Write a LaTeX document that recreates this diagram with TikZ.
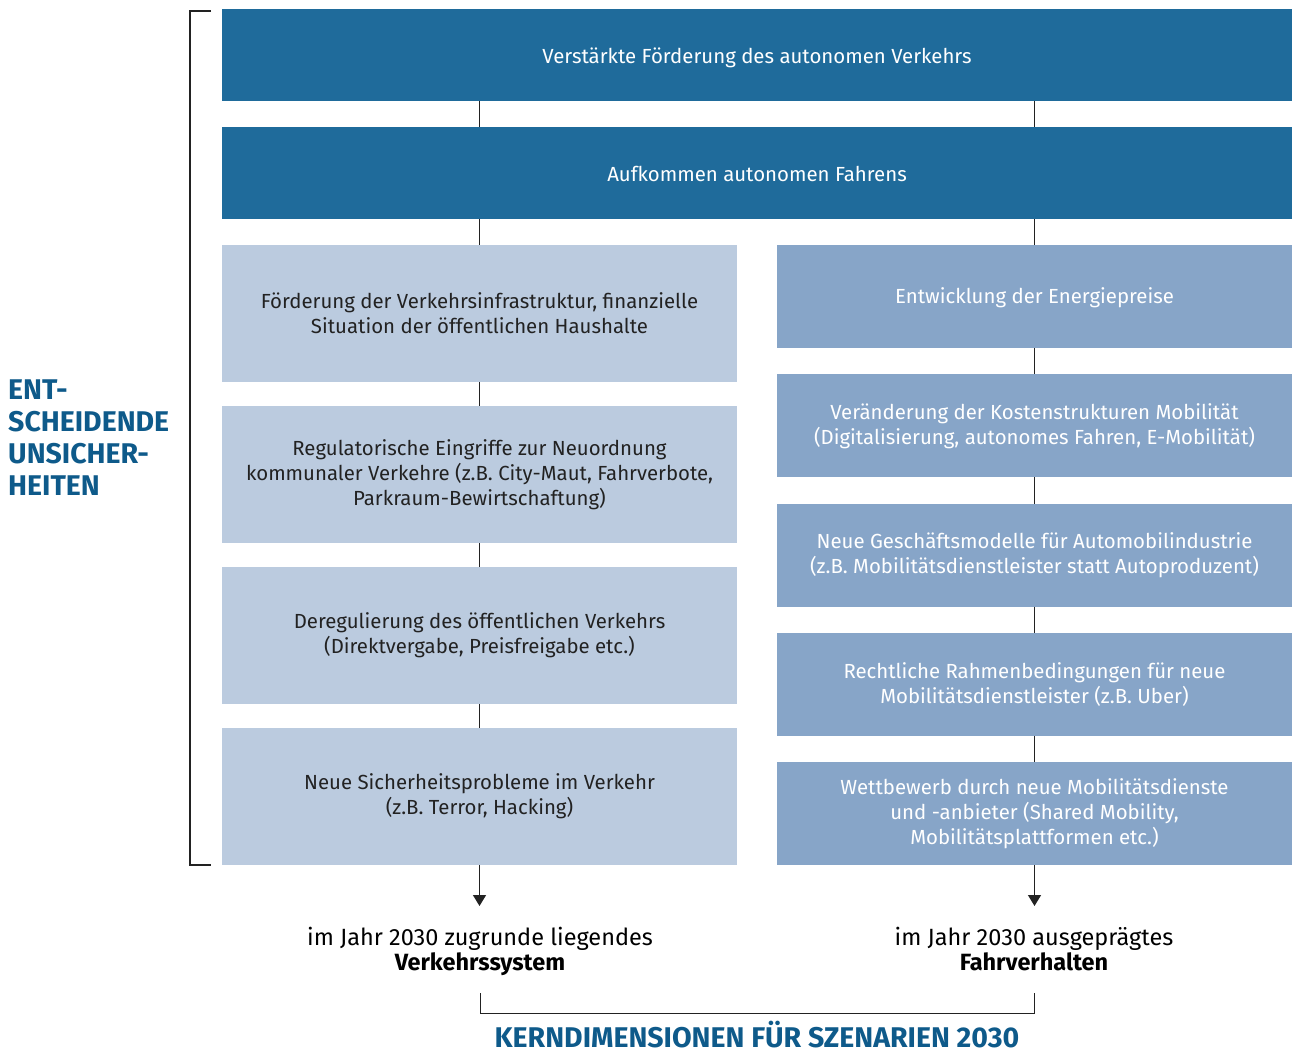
\documentclass[tikz,border=0pt]{standalone}
\usepackage{fontspec}
\setmainfont{Fira Sans}
\usetikzlibrary{positioning,arrows.meta}
\definecolor{darkbox}{HTML}{1F6B9B}
\definecolor{leftbox}{HTML}{BBCBDF}
\definecolor{rightbox}{HTML}{87A5C8}
\definecolor{titleblue}{HTML}{0E5A8A}
\definecolor{textgray}{HTML}{222222}
\begin{document}
\begin{tikzpicture}[x=1pt,y=-1pt,
	  box/.style={inner sep=0pt,outer sep=0pt,align=center,font=\fontsize{20.4}{25}\selectfont},
	  top box/.style={box,fill=darkbox,text=white,minimum width=1070pt,minimum height=92pt,text height=17pt,text depth=0pt},
	  left box/.style={box,fill=leftbox,text=textgray,minimum width=515pt,minimum height=137pt},
	  right box/.style={box,fill=rightbox,text=white,minimum width=515pt,minimum height=103pt},
	  result/.style={align=center,inner sep=0pt,text=black,font=\fontsize{23.5}{25}\selectfont},
	  heading/.style={inner sep=0pt,text=titleblue,font=\fontsize{28.5}{32}\selectfont\bfseries},
	  link/.style={draw=textgray,line width=1.3pt}]
	\useasboundingbox (0,0) rectangle (1297,1052);

	  % top row
	  \node[top box] (top1) at (757,55) {Verstärkte Förderung des autonomen Verkehrs};
	  \node[top box] (top2) [below=26pt of top1] {Aufkommen autonomen Fahrens};

	  % left column
	  \node[left box] (l1) at (479.5,313.5) {Förderung der Verkehrsinfrastruktur, finanzielle\\Situation der öffentlichen Haushalte};
	  \node[left box] (l2) [below=24pt of l1] {Regulatorische Eingriffe zur Neuordnung\\kommunaler Verkehre (z.B. City-Maut, Fahrverbote,\\Parkraum-Bewirtschaftung)};
	  \node[left box] (l3) [below=24pt of l2] {Deregulierung des öffentlichen Verkehrs\\(Direktvergabe, Preisfreigabe etc.)};
	  \node[left box] (l4) [below=24pt of l3] {Neue Sicherheitsprobleme im Verkehr\\(z.B. Terror, Hacking)};

	  % right column
	  \node[right box,text height=15pt,text depth=2pt] (r1) at (1034.5,296.5) {Entwicklung der Energiepreise};
	  \node[right box] (r2) [below=26.25pt of r1] {Veränderung der Kostenstrukturen Mobilität\\(Digitalisierung, autonomes Fahren, E-Mobilität)};
	  \node[right box] (r3) [below=26.25pt of r2] {Neue Geschäftsmodelle für Automobilindustrie\\(z.B. Mobilitätsdienstleister statt Autoproduzent)};
	  \node[right box] (r4) [below=26.25pt of r3] {Rechtliche Rahmenbedingungen für neue\\Mobilitätsdienstleister (z.B. Uber)};
	  \node[right box] (r5) [below=26.25pt of r4] {Wettbewerb durch neue Mobilitätsdienste\\und -anbieter (Shared Mobility,\\Mobilitätsplattformen etc.)};

	  \path[link]
	    (top1.south -| l1) edge (top2.north -| l1)
	    (top1.south -| r1) edge (top2.north -| r1)
	    (top2.south -| l1) edge (l1)
	    (top2.south -| r1) edge (r1)
	    (l1) edge (l2)
	    (l2) edge (l3)
	    (l3) edge (l4)
	    (r1) edge (r2)
	    (r2) edge (r3)
	    (r3) edge (r4)
	    (r4) edge (r5);

	  % results
	  \coordinate (endL) at ([yshift=-41pt]l4.south);
	  \coordinate (endR) at ([yshift=-41pt]r5.south);
	  \draw[link,-{Triangle[width=13pt,length=11pt]}] (l4) -- (endL);
	  \draw[link,-{Triangle[width=13pt,length=11pt]}] (r5) -- (endR);
	  \node[result,anchor=base] (resL) at (480,970) {im Jahr 2030 zugrunde liegendes\\\textbf{Verkehrssystem}};
	  \node[result,anchor=base] (resR) at (1034,970) {im Jahr 2030 ausgeprägtes\\\textbf{Fahrverhalten}};

	  \coordinate (kL) at (480,993);
	  \coordinate (kR) at (1034,993);
	  \draw[link,line width=1pt] (kL) -- ++(0,20) -| (kR);
	  \node[heading,anchor=base] (kern) at (757,1047) {KERNDIMENSIONEN FÜR SZENARIEN 2030};

	  % left bracket
	  \draw[link,line width=1.2pt] ([xshift=-11pt,yshift=-2pt]top1.north west) -- ++(-21,0) |- ([xshift=-11pt]l4.south west);
	  \node[heading,anchor=north west,align=left] (unsicher) at (8,380) {ENT-\\SCHEIDENDE\\UNSICHER-\\HEITEN};

\end{tikzpicture}
\end{document}
